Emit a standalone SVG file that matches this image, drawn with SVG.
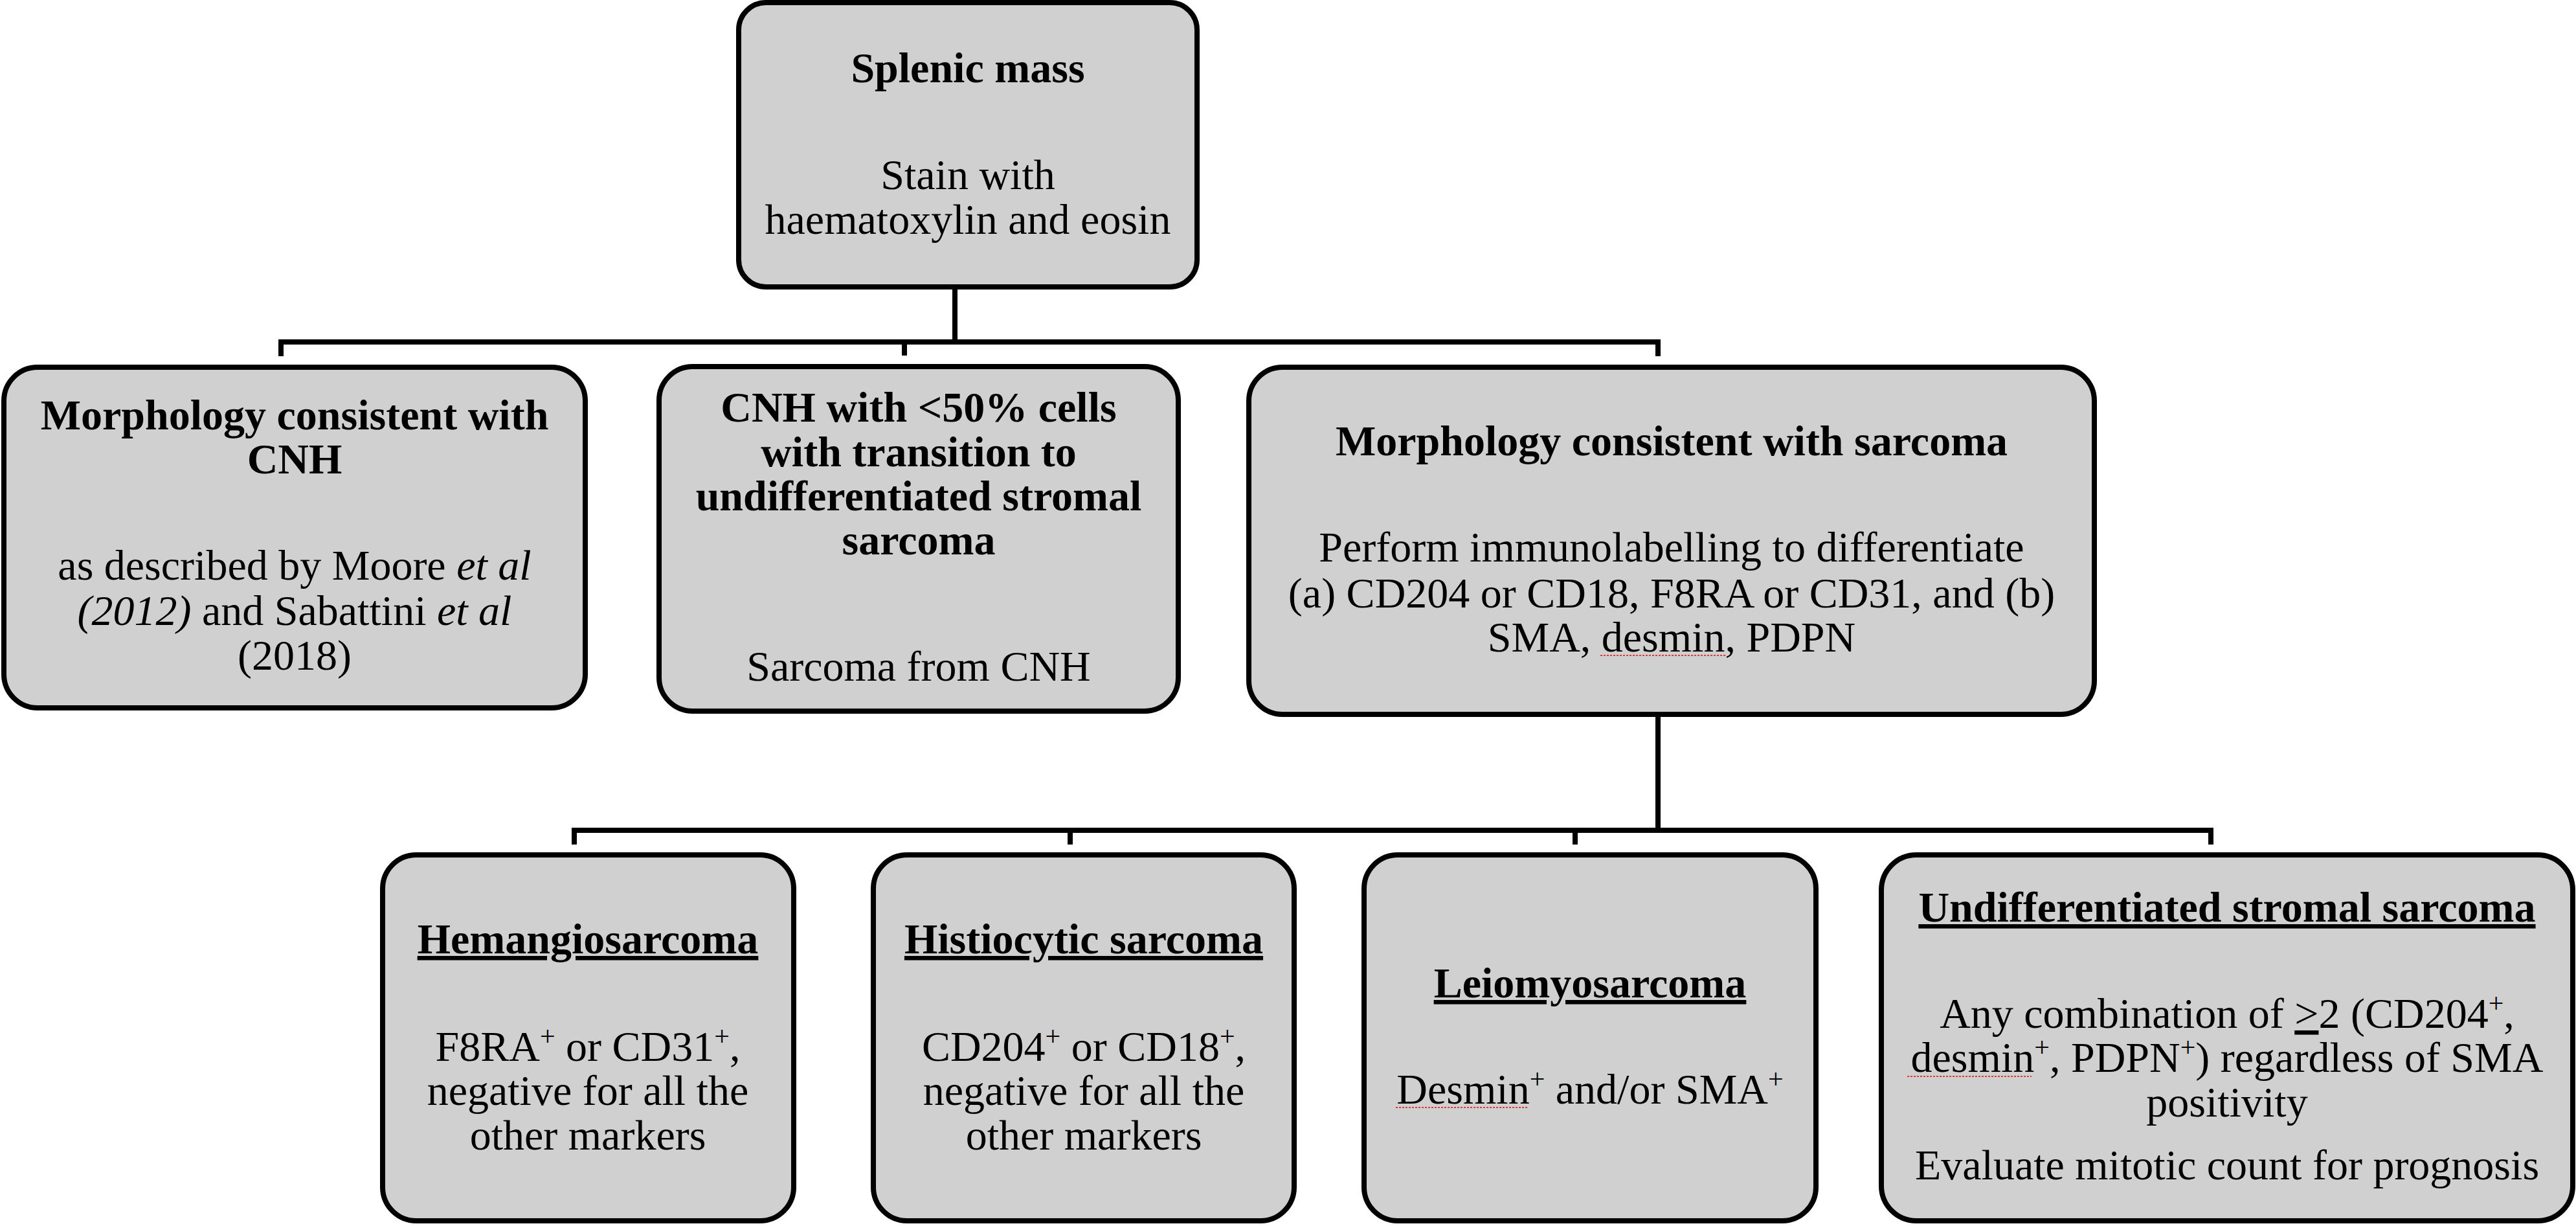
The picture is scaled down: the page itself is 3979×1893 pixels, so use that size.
<svg xmlns="http://www.w3.org/2000/svg" width="3979" height="1893" viewBox="0 0 3979 1893">
<style>
  .box { fill: #d0d0d0; stroke: #000; stroke-width: 8; }
  .t { font-family: "Liberation Serif", "Times New Roman", serif; font-size: 66px; fill: #000; text-anchor: middle; }
  .b { font-weight: bold; }
  .i { font-style: italic; }
  .u { text-decoration: underline; text-decoration-thickness: 6px; text-underline-offset: 8px; }
  .sup { font-size: 42px; }
  .con { stroke: #000; stroke-width: 8; fill: none; stroke-linecap: square; }
  .stub { stroke: #bcbcbc; stroke-width: 9; }
  .spell { stroke: #e03a3a; stroke-width: 2; stroke-dasharray: 3 2; }
</style>
<rect width="3979" height="1893" fill="#fff"/>

<g id="connectors">
  <line class="stub" x1="1475" y1="422" x2="1475" y2="440"/>
  <line class="stub" x1="2561" y1="1082" x2="2561" y2="1100"/>
  <path class="con" d="M1475 447 V528 M434 546 V528 H2561 V546 M1397 528 V545"/>
  <path class="con" d="M2561 1107 V1282 M887 1300 V1282 H3415 V1300 M1653 1282 V1300 M2433 1282 V1300"/>
</g>

<g id="node-splenic">
  <rect class="box" x="1141" y="4" width="708" height="439" rx="42" ry="42"/>
  <text class="t b" x="1495" y="127">Splenic mass</text>
  <text class="t" x="1495" y="292">Stain with</text>
  <text class="t" x="1495" y="361">haematoxylin and eosin</text>
</g>

<g id="node-cnh">
  <rect class="box" x="6" y="567" width="898" height="526" rx="52" ry="52"/>
  <text class="t b" x="455" y="663">Morphology consistent with</text>
  <text class="t b" x="455" y="731">CNH</text>
  <text class="t" x="455" y="895">as described by Moore <tspan class="i">et al</tspan></text>
  <text class="t" x="455" y="965"><tspan class="i">(2012)</tspan> and Sabattini <tspan class="i">et al</tspan></text>
  <text class="t" x="455" y="1034">(2018)</text>
</g>

<g id="node-cnh-sarcoma">
  <rect class="box" x="1018" y="566" width="802" height="532" rx="52" ry="52"/>
  <text class="t b" x="1419" y="651">CNH with &lt;50% cells</text>
  <text class="t b" x="1419" y="720">with transition to</text>
  <text class="t b" x="1419" y="788">undifferentiated stromal</text>
  <text class="t b" x="1419" y="856">sarcoma</text>
  <text class="t" x="1419" y="1051">Sarcoma from CNH</text>
</g>

<g id="node-sarcoma">
  <rect class="box" x="1929" y="567" width="1306" height="536" rx="52" ry="52"/>
  <text class="t b" x="2582" y="703">Morphology consistent with sarcoma</text>
  <text class="t" x="2582" y="867">Perform immunolabelling to differentiate</text>
  <text class="t" x="2582" y="938">(a) CD204 or CD18, F8RA or CD31, and (b)</text>
  <text class="t" x="2582" y="1006">SMA, desmin, PDPN</text>
  <line class="spell" x1="2472" y1="1012" x2="2666" y2="1012"/>
</g>

<g id="node-hemangio">
  <rect class="box" x="591" y="1320" width="635" height="565" rx="52" ry="52"/>
  <text class="t b u" x="908" y="1472">Hemangiosarcoma</text>
  <text class="t" x="908" y="1638">F8RA<tspan class="sup" dy="-24">+</tspan><tspan dy="24"> or CD31</tspan><tspan class="sup" dy="-24">+</tspan><tspan dy="24">,</tspan></text>
  <text class="t" x="908" y="1706">negative for all the</text>
  <text class="t" x="908" y="1775">other markers</text>
</g>

<g id="node-histio">
  <rect class="box" x="1349" y="1320" width="650" height="565" rx="52" ry="52"/>
  <text class="t b u" x="1674" y="1472">Histiocytic sarcoma</text>
  <text class="t" x="1674" y="1638">CD204<tspan class="sup" dy="-24">+</tspan><tspan dy="24"> or CD18</tspan><tspan class="sup" dy="-24">+</tspan><tspan dy="24">,</tspan></text>
  <text class="t" x="1674" y="1706">negative for all the</text>
  <text class="t" x="1674" y="1775">other markers</text>
</g>

<g id="node-leiomyo">
  <rect class="box" x="2107" y="1320" width="698" height="565" rx="52" ry="52"/>
  <text class="t b u" x="2456" y="1540">Leiomyosarcoma</text>
  <text class="t" x="2456" y="1704">Desmin<tspan class="sup" dy="-24">+</tspan><tspan dy="24"> and/or SMA</tspan><tspan class="sup" dy="-24">+</tspan></text>
  <line class="spell" x1="2156" y1="1710" x2="2361" y2="1710"/>
</g>

<g id="node-uss">
  <rect class="box" x="2906" y="1320" width="1068" height="565" rx="54" ry="54"/>
  <text class="t b u" x="3440" y="1423">Undifferentiated stromal sarcoma</text>
  <text class="t" x="3440" y="1587">Any combination of <tspan text-decoration="underline">&gt;</tspan>2 (CD204<tspan class="sup" dy="-24">+</tspan><tspan dy="24">,</tspan></text>
  <text class="t" x="3440" y="1655">desmin<tspan class="sup" dy="-24">+</tspan><tspan dy="24">, PDPN</tspan><tspan class="sup" dy="-24">+</tspan><tspan dy="24">) regardless of SMA</tspan></text>
  <text class="t" x="3440" y="1724">positivity</text>
  <text class="t" x="3440" y="1821">Evaluate mitotic count for prognosis</text>
  <line class="spell" x1="2946" y1="1662" x2="3138" y2="1662"/>
</g>
</svg>
